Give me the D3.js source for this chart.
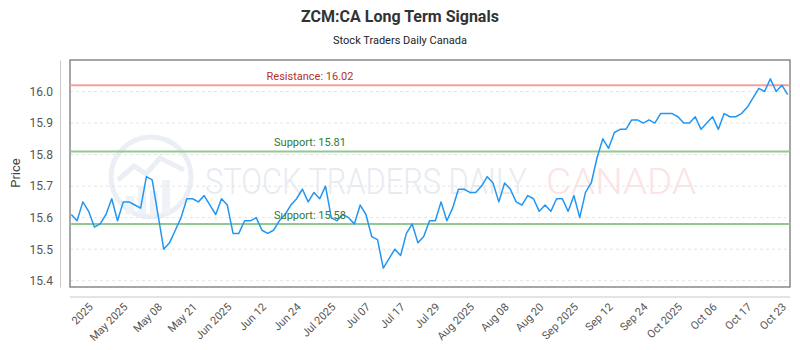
<!DOCTYPE html>
<html>
<head>
<meta charset="utf-8">
<script src="https://cdn.jsdelivr.net/npm/d3@7"></script>
<style>
  body { margin: 0; background: #fff; }
  svg { display: block; font-family: Roboto, "Open Sans", sans-serif; }
</style>
</head>
<body>
<svg id="chart" width="800" height="350"></svg>
<script>
// ===============================
// Dades
// ===============================
const prices = [
  15.61, 15.59, 15.65, 15.62, 15.57, 15.58, 15.61, 15.66, 15.59, 15.65,
  15.65, 15.64, 15.63, 15.73, 15.72, 15.61, 15.50, 15.52, 15.56, 15.60,
  15.66, 15.66, 15.65, 15.67, 15.64, 15.61, 15.66, 15.64, 15.55, 15.55,
  15.59, 15.59, 15.60, 15.56, 15.55, 15.56, 15.59, 15.61, 15.64, 15.66,
  15.69, 15.65, 15.68, 15.66, 15.70, 15.60, 15.59, 15.61, 15.60, 15.58,
  15.64, 15.61, 15.54, 15.53, 15.44, 15.47, 15.50, 15.48, 15.55, 15.58,
  15.52, 15.54, 15.59, 15.59, 15.65, 15.59, 15.63, 15.69, 15.69, 15.68,
  15.68, 15.70, 15.73, 15.71, 15.65, 15.71, 15.69, 15.65, 15.64, 15.67,
  15.66, 15.62, 15.64, 15.62, 15.66, 15.66, 15.62, 15.67, 15.60, 15.68,
  15.71, 15.79, 15.85, 15.82, 15.87, 15.88, 15.88, 15.91, 15.91, 15.90,
  15.91, 15.90, 15.93, 15.93, 15.93, 15.92, 15.90, 15.90, 15.92, 15.88,
  15.90, 15.92, 15.88, 15.93, 15.92, 15.92, 15.93, 15.95, 15.98, 16.01,
  16.00, 16.04, 16.00, 16.02, 15.99
];

// etiquetes de l'eix X (una cada 6 punts, començant al punt 4)
const xTickLabels = [
  "2025", "May 2025", "May 08", "May 21", "Jun 2025", "Jun 12", "Jun 24",
  "Jul 2025", "Jul 07", "Jul 17", "Jul 29", "Aug 2025", "Aug 08", "Aug 20",
  "Sep 2025", "Sep 12", "Sep 24", "Oct 2025", "Oct 06", "Oct 17", "Oct 23"
];
const xTickIndex = xTickLabels.map((d, i) => 4 + i * 6);

const yTicks = [15.4, 15.5, 15.6, 15.7, 15.8, 15.9, 16.0];

const levels = [
  { name: "Resistance", value: 16.02, type: "resistance" },
  { name: "Support", value: 15.81, type: "support" },
  { name: "Support", value: 15.58, type: "support" }
];


// ===============================
// Escales
// ===============================
const svg = d3.select("#chart");

const plot = { left: 70, right: 790, top: 60, bottom: 287 };

const x = d3.scaleLinear()
  .domain([0, prices.length - 1])
  .range([plot.left + 1.3, plot.right - 2.3]);

const y = d3.scaleLinear()
  .domain([15.38, 16.1])
  .range([plot.bottom, plot.top]);


// ===============================
// Títols
// ===============================
svg.append("text")
  .attr("x", 400)
  .attr("y", 22)
  .attr("text-anchor", "middle")
  .text("ZCM:CA Long Term Signals")
  .style("font-size", "16px")
  .style("font-weight", "bold")
  .style("fill", "#333");

svg.append("text")
  .attr("x", 400)
  .attr("y", 44)
  .attr("text-anchor", "middle")
  .text("Stock Traders Daily Canada")
  .style("font-size", "11px")
  .style("fill", "#222");


// ===============================
// Marca d'aigua
// ===============================
const wm = svg.append("g").attr("class", "watermark");

wm.append("circle")
  .attr("cx", 151)
  .attr("cy", 177)
  .attr("r", 40)
  .attr("fill", "none")
  .attr("stroke", "#ebeff5")
  .attr("stroke-width", 5);

const wmBars = [[126, 196, 8, 18], [138, 186, 8, 28], [150, 191, 8, 23], [162, 180, 8, 34]];
wm.selectAll(".wm-bar")
  .data(wmBars)
  .enter()
  .append("rect")
  .attr("x", d => d[0])
  .attr("y", d => d[1])
  .attr("width", d => d[2])
  .attr("height", d => d[3])
  .attr("fill", "#eff2f7");

wm.append("path")
  .attr("d", "M118,180 L134,166 L146,174 L160,158 L184,170")
  .attr("fill", "none")
  .attr("stroke", "#ebeff5")
  .attr("stroke-width", 5);

// text estret: mida petita i escalat vertical
wm.append("text")
  .attr("transform", "translate(205,194) scale(1,1.3)")
  .attr("textLength", 322)
  .attr("lengthAdjust", "spacingAndGlyphs")
  .text("STOCK TRADERS DAILY")
  .style("font-size", "29px")
  .style("font-weight", "300")
  .style("fill", "#e7ebf2");

wm.append("text")
  .attr("transform", "translate(546,194) scale(1,1.3)")
  .attr("textLength", 150)
  .attr("lengthAdjust", "spacingAndGlyphs")
  .text("CANADA")
  .style("font-size", "29px")
  .style("font-weight", "300")
  .style("fill", "#fde4e4");


// ===============================
// Graella
// ===============================
svg.append("g")
  .selectAll("line")
  .data(yTicks)
  .enter()
  .append("line")
  .attr("x1", plot.left)
  .attr("x2", plot.right)
  .attr("y1", d => y(d))
  .attr("y2", d => y(d))
  .attr("stroke", "#e4e4e4")
  .attr("stroke-dasharray", "3,3");


// ===============================
// Eixos
// ===============================
const yAxis = svg.append("g")
  .attr("transform", "translate(60,0)")
  .call(d3.axisLeft(y).tickValues(yTicks).tickFormat(d3.format(".1f")).tickSize(0).tickPadding(7));

yAxis.select(".domain").attr("stroke", "#c8c8c8");
yAxis.selectAll("text")
  .style("font-size", "12px")
  .style("fill", "#555")
  .style("font-family", "Roboto, sans-serif");

svg.append("text")
  .attr("transform", "translate(20,173) rotate(-90)")
  .attr("text-anchor", "middle")
  .text("Price")
  .style("font-size", "13px")
  .style("fill", "#444");

const xAxis = svg.append("g")
  .attr("transform", "translate(0,297)")
  .call(d3.axisBottom(x)
    .tickValues(xTickIndex)
    .tickFormat((d, i) => xTickLabels[i])
    .tickSize(0));

xAxis.select(".domain")
  .attr("d", `M${plot.left},0H${plot.right}`)
  .attr("stroke", "#c8c8c8");

xAxis.selectAll("text")
  .attr("y", 0)
  .attr("dy", "0.35em")
  .attr("transform", "translate(-4,8) rotate(-45)")
  .attr("text-anchor", "end")
  .style("font-size", "11px")
  .style("fill", "#555")
  .style("font-family", "Roboto, sans-serif");


// ===============================
// Marc de l'àrea de dibuix
// ===============================
svg.append("rect")
  .attr("x", plot.left)
  .attr("y", plot.top)
  .attr("width", plot.right - plot.left)
  .attr("height", plot.bottom - plot.top)
  .attr("fill", "none")
  .attr("stroke", "#777")
  .attr("stroke-width", 1.3);


// ===============================
// Suports i resistència
// ===============================
const levelColor = { resistance: "#f2a19b", support: "#92c892" };
const labelColor = { resistance: "#b0342a", support: "#2f7a34" };

svg.append("g")
  .selectAll("line")
  .data(levels)
  .enter()
  .append("line")
  .attr("x1", plot.left)
  .attr("x2", plot.right)
  .attr("y1", d => y(d.value))
  .attr("y2", d => y(d.value))
  .attr("stroke", d => levelColor[d.type])
  .attr("stroke-width", 2);


// ===============================
// Línia de preu
// ===============================
const line = d3.line()
  .x((d, i) => x(i))
  .y(d => y(d));

svg.append("path")
  .datum(prices)
  .attr("d", line)
  .attr("fill", "none")
  .attr("stroke", "#2196f3")
  .attr("stroke-width", 1.5)
  .attr("stroke-linejoin", "round");

svg.append("g")
  .selectAll("text")
  .data(levels)
  .enter()
  .append("text")
  .attr("x", plot.left + (plot.right - plot.left) / 3)
  .attr("y", d => y(d.value) - 5)
  .attr("text-anchor", "middle")
  .text(d => `${d.name}: ${d.value.toFixed(2)}`)
  .style("font-size", "11px")
  .style("fill", d => labelColor[d.type]);
</script>
</body>
</html>
